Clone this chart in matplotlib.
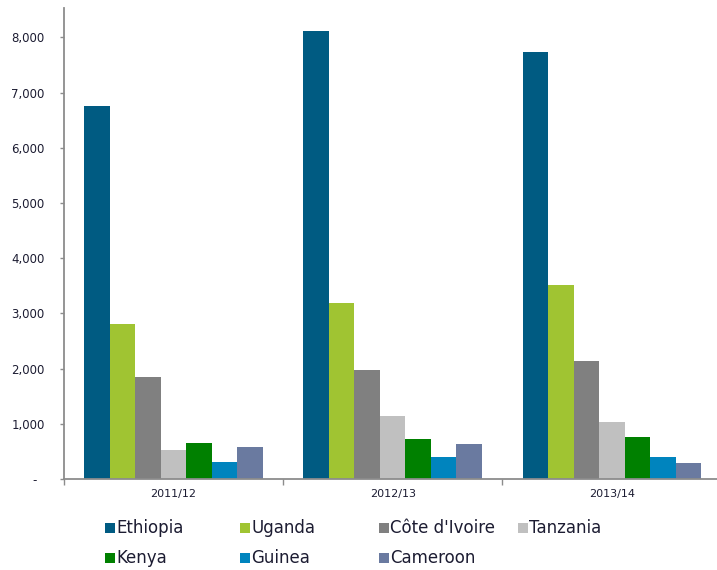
import matplotlib.pyplot as plt
from matplotlib.patches import Rectangle
import numpy as np

years = ['2011/12', '2012/13', '2013/14']
countries = ['Ethiopia', 'Uganda', "Côte d'Ivoire", 'Tanzania', 'Kenya', 'Guinea', 'Cameroon']
ethiopia = [6760, 8110, 7740]
uganda = [2810, 3190, 3510]
cote_divoire = [1850, 1980, 2130]
tanzania = [525, 1140, 1040]
kenya = [660, 725, 765]
guinea = [300, 395, 405]
cameroon = [585, 630, 295]
y_ticks = [0, 1000, 2000, 3000, 4000, 5000, 6000, 7000, 8000]
y_tick_labels = ['-  ', '1,000', '2,000', '3,000', '4,000', '5,000', '6,000', '7,000', '8,000']

series = [ethiopia, uganda, cote_divoire, tanzania, kenya, guinea, cameroon]
color_list = ['#005b82', '#a0c432', '#808080', '#c0c0c0', '#008000', '#0084be', '#6a7aa0']

plt.rcParams['font.family'] = ['DejaVu Sans']
text_color = '#1c1c32'

fig = plt.figure(figsize=(7.17, 5.70), dpi=100)
ax = fig.add_axes([64 / 717, 91 / 570, 653 / 717, 471 / 570])

x = np.arange(len(years))
group = 0.815
bar_w = group / len(countries)
for j in range(len(countries)):
    pos = x - group / 2 + bar_w * (j + 0.5)
    ax.bar(pos, series[j], width=bar_w, color=color_list[j], linewidth=0)

ax.set_xlim(-0.5, 2.48)
ax.set_ylim(0, 8533)

for side in ['top', 'right']:
    ax.spines[side].set_visible(False)
for side in ['left', 'bottom']:
    ax.spines[side].set_color('#8c8c8c')
    ax.spines[side].set_linewidth(1.3)

ax.set_yticks(y_ticks)
ax.set_yticklabels(y_tick_labels)
ax.tick_params(axis='y', direction='out', length=3, width=1, color='#8c8c8c',
               pad=11, labelsize=8.5, labelcolor=text_color)

# year labels sit in the middle, tick marks go between the groups
ax.set_xticks(x)
ax.set_xticklabels(years)
ax.set_xticks([-0.5, 0.5, 1.5], minor=True)
ax.tick_params(axis='x', which='major', length=0, pad=7, labelsize=8, labelcolor=text_color)
ax.tick_params(axis='x', which='minor', direction='out', length=4, width=1, color='#8c8c8c')

# legend drawn by hand, 4 columns x 2 rows
col_x = [105, 240, 379, 518]
row_y = [528, 558]
for j in range(len(countries)):
    px = col_x[j % 4]
    py = row_y[j // 4]
    fig.add_artist(Rectangle((px / 717, 1 - (py + 5) / 570), 10 / 717, 10 / 570,
                             transform=fig.transFigure, color=color_list[j], linewidth=0))
    fig.text((px + 11) / 717, 1 - py / 570, countries[j], fontsize=12,
             color=text_color, ha='left', va='center')

plt.savefig('out.png', dpi=100)
